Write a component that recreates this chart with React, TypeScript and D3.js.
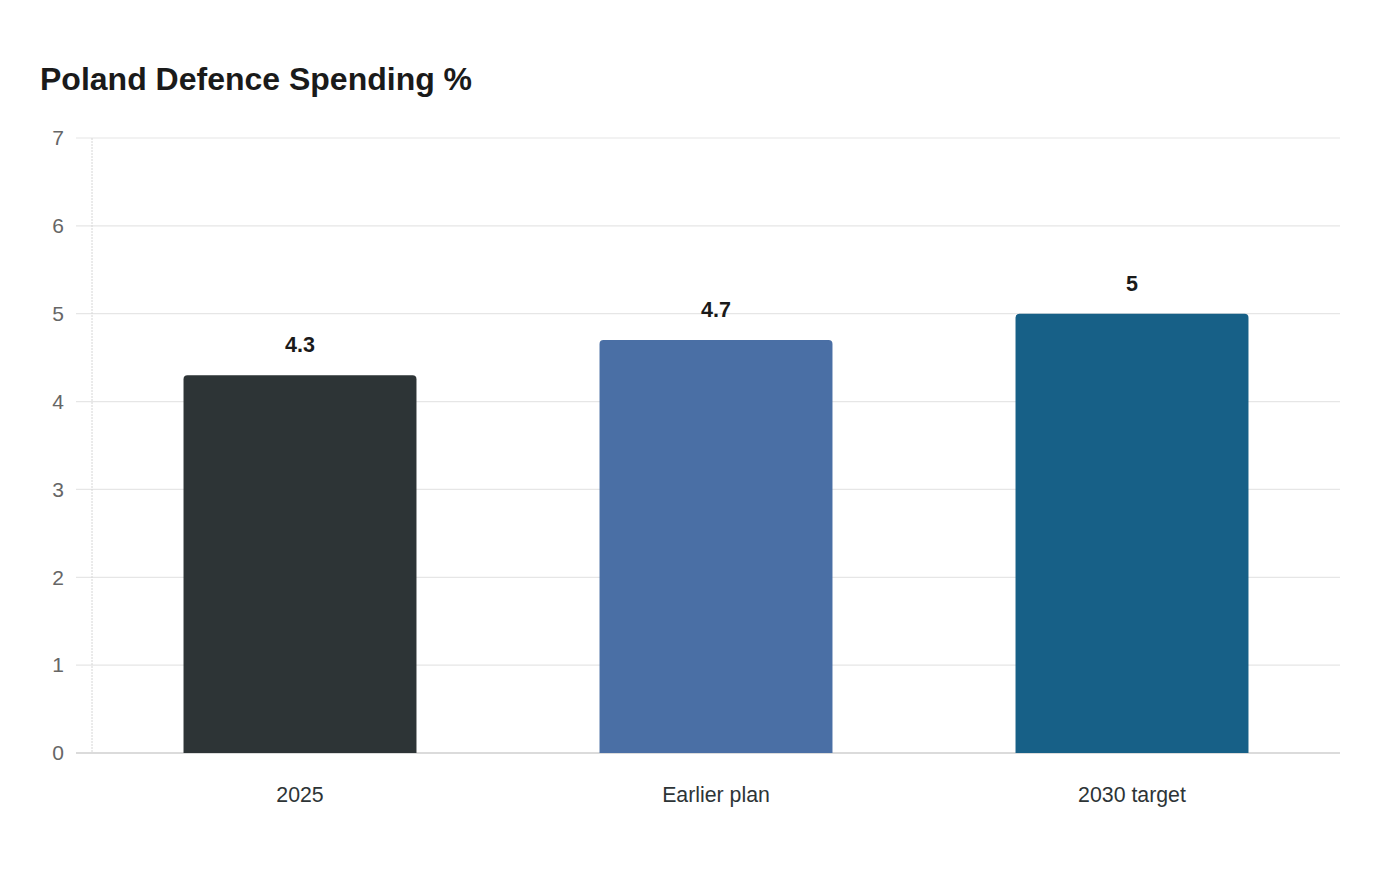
import * as d3 from 'd3';

const categories = ['2025', 'Earlier plan', '2030 target'];
const values = [4.3, 4.7, 5];
const barColors = ['#2d3436', '#4a6fa5', '#176087'];
const yTicks = [0, 1, 2, 3, 4, 5, 6, 7];

const WIDTH = 1400;
const HEIGHT = 880;
const MARGIN = { top: 138, right: 60, bottom: 127, left: 92 };
const FONT = '"Liberation Sans", Arial, sans-serif';

const topRoundedRect = (x: number, y: number, w: number, h: number, r: number) => {
  const rr = Math.min(r, h, w / 2);
  return `M${x},${y + h}V${y + rr}Q${x},${y} ${x + rr},${y}H${x + w - rr}Q${x + w},${y} ${x + w},${y + rr}V${y + h}Z`;
};

export default function App() {
  const boundsWidth = WIDTH - MARGIN.left - MARGIN.right;
  const boundsHeight = HEIGHT - MARGIN.top - MARGIN.bottom;

  const xScale = d3.scaleBand().domain(categories).range([0, boundsWidth]).paddingInner(0.44).paddingOuter(0.22);
  const yScale = d3.scaleLinear().domain([0, 7]).range([boundsHeight, 0]);

  return (
    <svg width={WIDTH} height={HEIGHT} style={{ display: 'block', margin: '-8px' }}>
      <rect width={WIDTH} height={HEIGHT} fill="#ffffff" />
      <text x={40} y={90} fontFamily={FONT} fontSize={32} fontWeight="bold" fill="#1a1a1a">
        Poland Defence Spending %
      </text>
      <g transform={`translate(${MARGIN.left},${MARGIN.top})`}>
        {yTicks.map(t => (
          <g key={t}>
            <line x1={-16} x2={boundsWidth} y1={yScale(t)} y2={yScale(t)} stroke={t === 0 ? '#cfcfcf' : '#e6e6e6'} strokeWidth={t === 0 ? 1.5 : 1.2} />
            <text x={-28} y={yScale(t)} dy="0.35em" textAnchor="end" fontFamily={FONT} fontSize={21} fill="#666">
              {t}
            </text>
          </g>
        ))}
        <line x1={0} x2={0} y1={0} y2={boundsHeight} stroke="#d6d6d6" strokeWidth={1} strokeDasharray="2,1" />
        {categories.map((c, i) => {
          const x = xScale(c) ?? 0;
          const y = yScale(values[i]);
          const h = boundsHeight - y;
          return (
            <g key={c}>
              <path d={topRoundedRect(x, y, xScale.bandwidth(), h, 4)} fill={barColors[i]} />
              <text x={x + xScale.bandwidth() / 2} y={y - 23} textAnchor="middle" fontFamily={FONT} fontSize={21.5} fontWeight="bold" fill="#1a1a1a">
                {values[i]}
              </text>
              <text x={x + xScale.bandwidth() / 2} y={boundsHeight + 49} textAnchor="middle" fontFamily={FONT} fontSize={21.3} fill="#2d3436">
                {c}
              </text>
            </g>
          );
        })}
      </g>
    </svg>
  );
}
